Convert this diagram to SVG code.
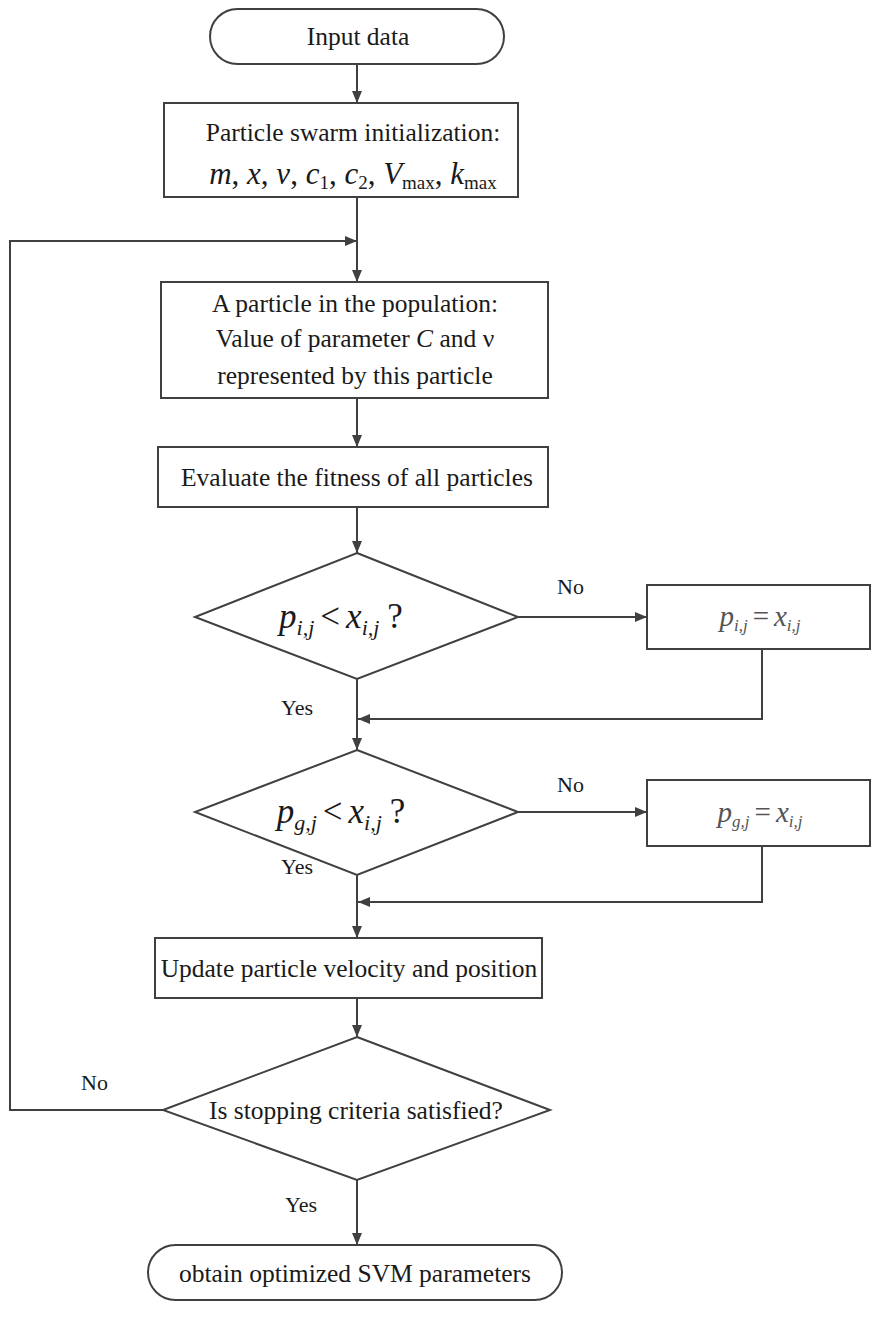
<svg xmlns="http://www.w3.org/2000/svg" width="874" height="1322" viewBox="0 0 874 1322">
<defs>
<marker id="arr" viewBox="0 0 12 10" refX="12" refY="5" markerWidth="12" markerHeight="10" markerUnits="userSpaceOnUse" orient="auto">
<path d="M0,0 L12,5 L0,10 z" fill="#404040"/>
</marker>
</defs>
<style>
.shape{fill:#fff;stroke:#404040;stroke-width:2}
.txt{font-family:Liberation Serif,serif;font-size:25.5px;fill:#1a1a1a;text-anchor:middle}
.lab{font-family:Liberation Serif,serif;font-size:22px;fill:#1a1a1a}
.mth{font-family:Liberation Serif,serif;font-size:31px;fill:#1a1a1a;text-anchor:middle}
.mts{font-family:Liberation Serif,serif;font-size:29px;fill:#555;text-anchor:middle}
.it{font-style:italic}
.conn{fill:none;stroke:#404040;stroke-width:2}
</style>
<rect width="874" height="1322" fill="#fff"/>
<g id="connectors">
<path class="conn" d="M357,63 V103" marker-end="url(#arr)"/>
<path class="conn" d="M357,197 V282" marker-end="url(#arr)"/>
<path class="conn" d="M163,1110 H10 V241 H357" marker-end="url(#arr)"/>
<path class="conn" d="M357,398 V447" marker-end="url(#arr)"/>
<path class="conn" d="M357,507 V553" marker-end="url(#arr)"/>
<path class="conn" d="M518,617 H647" marker-end="url(#arr)"/>
<path class="conn" d="M762,649 V719 H358" marker-end="url(#arr)"/>
<path class="conn" d="M357,679 V750" marker-end="url(#arr)"/>
<path class="conn" d="M518,812 H647" marker-end="url(#arr)"/>
<path class="conn" d="M762,846 V902 H358" marker-end="url(#arr)"/>
<path class="conn" d="M357,875 V938" marker-end="url(#arr)"/>
<path class="conn" d="M357,998 V1037" marker-end="url(#arr)"/>
<path class="conn" d="M357,1180 V1245" marker-end="url(#arr)"/>
<text class="lab" style="font-family:'Liberation Serif',serif" x="557" y="594">No</text>
<text class="lab" style="font-family:'Liberation Serif',serif" x="281" y="715">Yes</text>
<text class="lab" style="font-family:'Liberation Serif',serif" x="557" y="792">No</text>
<text class="lab" style="font-family:'Liberation Serif',serif" x="281" y="874">Yes</text>
<text class="lab" style="font-family:'Liberation Serif',serif" x="81" y="1090">No</text>
<text class="lab" style="font-family:'Liberation Serif',serif" x="285" y="1212">Yes</text>
</g>
<g id="start">
<rect class="shape" x="210" y="9" width="294" height="55" rx="27.5"/>
<text class="txt" style="font-family:'Liberation Serif',serif" x="358" y="45">Input data</text>
</g>
<g id="init">
<rect class="shape" x="164" y="103" width="354" height="94"/>
<text class="txt" style="font-family:'Liberation Serif',serif" x="353" y="141">Particle swarm initialization:</text>
<text class="mth" style="font-family:'Liberation Serif',serif" x="353" y="184"><tspan class="it">m</tspan>, <tspan class="it">x</tspan>, <tspan class="it">v</tspan>, <tspan class="it">c</tspan><tspan font-size="19" dy="5">1</tspan><tspan dy="-5">, </tspan><tspan class="it">c</tspan><tspan font-size="19" dy="5">2</tspan><tspan dy="-5">, </tspan><tspan class="it">V</tspan><tspan font-size="19" dy="5">max</tspan><tspan dy="-5">, </tspan><tspan class="it">k</tspan><tspan font-size="19" dy="5">max</tspan></text>
</g>
<g id="particle">
<rect class="shape" x="161" y="282" width="387" height="116"/>
<text class="txt" style="font-family:'Liberation Serif',serif" x="355" y="312">A particle in the population:</text>
<text class="txt" style="font-family:'Liberation Serif',serif" x="355" y="347">Value of parameter <tspan class="it">C</tspan> and  ν</text>
<text class="txt" style="font-family:'Liberation Serif',serif" x="355" y="384">represented by this particle</text>
</g>
<g id="evaluate">
<rect class="shape" x="158" y="447" width="390" height="60"/>
<text class="txt" style="font-family:'Liberation Serif',serif" x="357" y="486">Evaluate the fitness of all particles</text>
</g>
<g id="dec1">
<polygon class="shape" points="357,553 518,617 357,679 195,617"/>
<text class="mth" style="font-family:'Liberation Serif',serif;font-size:35px" x="341" y="628"><tspan class="it">p</tspan><tspan class="it" font-size="22" dy="7">i,j</tspan><tspan dy="-7" dx="6">&lt;</tspan><tspan class="it" dx="6">x</tspan><tspan class="it" font-size="22" dy="7">i,j</tspan><tspan dy="-7" dx="8">?</tspan></text>
</g>
<g id="upd1">
<rect class="shape" x="647" y="585" width="223" height="64"/>
<text class="mts" style="font-family:'Liberation Serif',serif" x="760" y="626"><tspan class="it">p</tspan><tspan class="it" font-size="17" dy="5">i,j</tspan><tspan dy="-5" dx="5">=</tspan><tspan class="it" dx="5">x</tspan><tspan class="it" font-size="17" dy="5">i,j</tspan></text>
</g>
<g id="dec2">
<polygon class="shape" points="357,750 518,812 357,875 195,812"/>
<text class="mth" style="font-family:'Liberation Serif',serif;font-size:35px" x="341" y="823"><tspan class="it">p</tspan><tspan class="it" font-size="22" dy="7">g,j</tspan><tspan dy="-7" dx="6">&lt;</tspan><tspan class="it" dx="6">x</tspan><tspan class="it" font-size="22" dy="7">i,j</tspan><tspan dy="-7" dx="8">?</tspan></text>
</g>
<g id="upd2">
<rect class="shape" x="647" y="780" width="223" height="66"/>
<text class="mts" style="font-family:'Liberation Serif',serif" x="760" y="822"><tspan class="it">p</tspan><tspan class="it" font-size="17" dy="5">g,j</tspan><tspan dy="-5" dx="5">=</tspan><tspan class="it" dx="5">x</tspan><tspan class="it" font-size="17" dy="5">i,j</tspan></text>
</g>
<g id="update">
<rect class="shape" x="155" y="938" width="387" height="60"/>
<text class="txt" style="font-family:'Liberation Serif',serif" x="349" y="977">Update particle velocity and position</text>
</g>
<g id="dec3">
<polygon class="shape" points="357,1037 550,1110 357,1180 163,1110"/>
<text class="txt" style="font-family:'Liberation Serif',serif" x="356" y="1119">Is stopping criteria satisfied?</text>
</g>
<g id="end">
<rect class="shape" x="148" y="1245" width="414" height="55" rx="27.5"/>
<text class="txt" style="font-family:'Liberation Serif',serif" x="355" y="1282">obtain optimized SVM parameters</text>
</g>
</svg>
